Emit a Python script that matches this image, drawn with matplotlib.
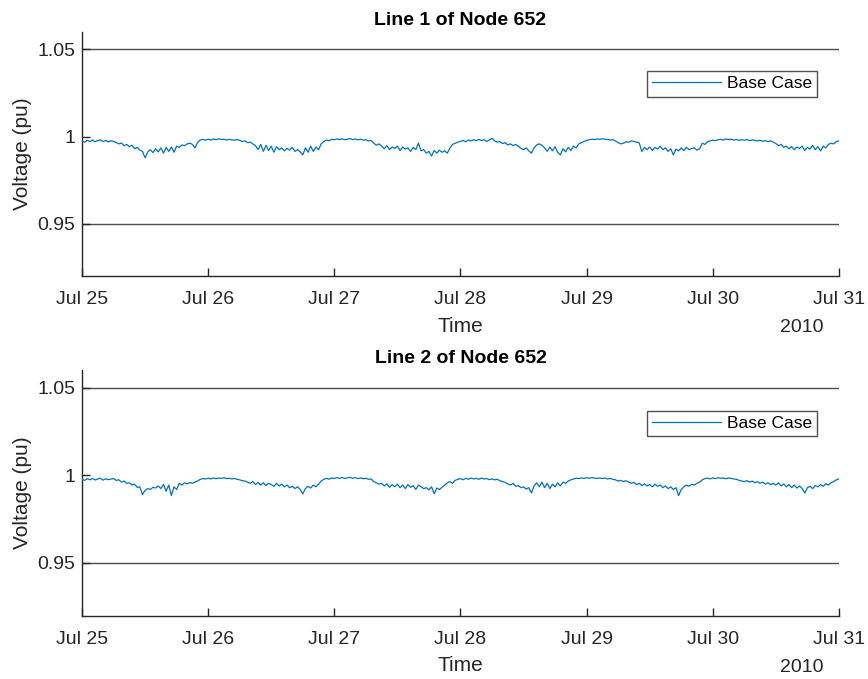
import numpy as np
import matplotlib
matplotlib.use("Agg")
import matplotlib.pyplot as plt
import matplotlib.dates as mdates

plt.rcParams["font.family"] = ["Liberation Sans", "DejaVu Sans"]

# ---------------- data (30 min samples, Jul 25 00:00 -> Jul 31 00:00) ----------------
start = np.datetime64("2010-07-25T00:00")
stop = np.datetime64("2010-07-31T00:00")

line1_v = [
    0.9975, 0.9968, 0.9979, 0.9972, 0.9980, 0.9970, 0.9977, 0.9981, 0.9971, 0.9978, 0.9969, 0.9976,
    0.9972, 0.9966, 0.9958, 0.9963, 0.9948, 0.9955, 0.9942, 0.9950, 0.9930, 0.9938, 0.9922, 0.9915,
    0.9878, 0.9912, 0.9925, 0.9908, 0.9930, 0.9912, 0.9935, 0.9905, 0.9938, 0.9915, 0.9940, 0.9910,
    0.9945, 0.9938, 0.9952, 0.9948, 0.9958, 0.9962, 0.9955, 0.9935, 0.9968, 0.9980, 0.9984, 0.9979,
    0.9985, 0.9980, 0.9986, 0.9982, 0.9987, 0.9983, 0.9985, 0.9980, 0.9984, 0.9981, 0.9979, 0.9983,
    0.9978, 0.9972, 0.9975, 0.9965, 0.9968, 0.9958, 0.9948, 0.9925, 0.9955, 0.9915, 0.9950, 0.9920,
    0.9945, 0.9910, 0.9942, 0.9925, 0.9935, 0.9918, 0.9932, 0.9922, 0.9938, 0.9915, 0.9925, 0.9912,
    0.9895, 0.9935, 0.9910, 0.9945, 0.9915, 0.9940, 0.9925, 0.9958, 0.9972, 0.9980, 0.9976, 0.9984,
    0.9982, 0.9986, 0.9983, 0.9987, 0.9982, 0.9985, 0.9988, 0.9983, 0.9986, 0.9981, 0.9985, 0.9979,
    0.9982, 0.9975, 0.9978, 0.9962, 0.9950, 0.9958, 0.9945, 0.9930, 0.9948, 0.9925, 0.9940, 0.9932,
    0.9945, 0.9920, 0.9940, 0.9928, 0.9935, 0.9915, 0.9938, 0.9925, 0.9962, 0.9918, 0.9925, 0.9905,
    0.9915, 0.9888, 0.9920, 0.9905, 0.9922, 0.9910, 0.9918, 0.9905, 0.9935, 0.9955, 0.9962, 0.9968,
    0.9972, 0.9978, 0.9970, 0.9980, 0.9975, 0.9982, 0.9976, 0.9984, 0.9978, 0.9981, 0.9972, 0.9980,
    0.9990, 0.9975, 0.9968, 0.9972, 0.9960, 0.9965, 0.9952, 0.9958, 0.9948, 0.9955, 0.9945, 0.9932,
    0.9925, 0.9935, 0.9918, 0.9905, 0.9935, 0.9952, 0.9958, 0.9950, 0.9935, 0.9915, 0.9940, 0.9918,
    0.9942, 0.9910, 0.9895, 0.9930, 0.9912, 0.9938, 0.9920, 0.9945, 0.9935, 0.9958, 0.9965, 0.9972,
    0.9978, 0.9982, 0.9985, 0.9983, 0.9986, 0.9984, 0.9987, 0.9985, 0.9983, 0.9980, 0.9982, 0.9975,
    0.9965, 0.9958, 0.9962, 0.9970, 0.9968, 0.9975, 0.9972, 0.9968, 0.9965, 0.9914, 0.9938, 0.9925,
    0.9940, 0.9920, 0.9938, 0.9928, 0.9945, 0.9925, 0.9935, 0.9915, 0.9930, 0.9895, 0.9928, 0.9918,
    0.9935, 0.9920, 0.9938, 0.9925, 0.9932, 0.9935, 0.9922, 0.9930, 0.9962, 0.9955, 0.9970, 0.9975,
    0.9980, 0.9976, 0.9982, 0.9984, 0.9980, 0.9986, 0.9983, 0.9985, 0.9980, 0.9984, 0.9978, 0.9982,
    0.9979, 0.9983, 0.9976, 0.9981, 0.9978, 0.9975, 0.9980, 0.9972, 0.9978, 0.9970, 0.9976, 0.9968,
    0.9960, 0.9948, 0.9955, 0.9938, 0.9945, 0.9930, 0.9942, 0.9925, 0.9940, 0.9932, 0.9945, 0.9920,
    0.9938, 0.9928, 0.9950, 0.9925, 0.9942, 0.9918, 0.9945, 0.9935, 0.9955, 0.9962, 0.9958, 0.9972,
    0.9975,
]

line2_v = [
    0.9978, 0.9972, 0.9982, 0.9975, 0.9983, 0.9974, 0.9980, 0.9984, 0.9973, 0.9981, 0.9976, 0.9979,
    0.9982, 0.9972, 0.9975, 0.9962, 0.9968, 0.9955, 0.9958, 0.9945, 0.9950, 0.9932, 0.9935, 0.9891,
    0.9915, 0.9925, 0.9920, 0.9932, 0.9928, 0.9940, 0.9925, 0.9948, 0.9910, 0.9945, 0.9885, 0.9935,
    0.9920, 0.9955, 0.9945, 0.9958, 0.9952, 0.9960, 0.9955, 0.9962, 0.9968, 0.9978, 0.9982, 0.9980,
    0.9984, 0.9980, 0.9986, 0.9981, 0.9985, 0.9983, 0.9987, 0.9982, 0.9984, 0.9980, 0.9983, 0.9978,
    0.9975, 0.9970, 0.9968, 0.9962, 0.9955, 0.9965, 0.9948, 0.9960, 0.9945, 0.9958, 0.9942, 0.9955,
    0.9948, 0.9938, 0.9955, 0.9940, 0.9950, 0.9935, 0.9945, 0.9930, 0.9938, 0.9925, 0.9935, 0.9920,
    0.9895, 0.9925, 0.9938, 0.9928, 0.9945, 0.9935, 0.9950, 0.9968, 0.9978, 0.9983, 0.9979, 0.9985,
    0.9983, 0.9987, 0.9984, 0.9988, 0.9983, 0.9986, 0.9989, 0.9984, 0.9987, 0.9982, 0.9986, 0.9981,
    0.9984, 0.9978, 0.9980, 0.9965, 0.9958, 0.9950, 0.9955, 0.9940, 0.9952, 0.9932, 0.9948, 0.9935,
    0.9950, 0.9930, 0.9945, 0.9925, 0.9948, 0.9932, 0.9942, 0.9920, 0.9945, 0.9935, 0.9925, 0.9930,
    0.9918, 0.9935, 0.9895, 0.9928, 0.9920, 0.9932, 0.9945, 0.9958, 0.9965, 0.9955, 0.9972, 0.9978,
    0.9982, 0.9975, 0.9984, 0.9978, 0.9985, 0.9980, 0.9983, 0.9978, 0.9985, 0.9980, 0.9982, 0.9976,
    0.9980, 0.9975, 0.9978, 0.9970, 0.9965, 0.9960, 0.9952, 0.9945, 0.9955, 0.9938, 0.9942, 0.9930,
    0.9935, 0.9922, 0.9930, 0.9900, 0.9940, 0.9958, 0.9935, 0.9962, 0.9930, 0.9955, 0.9925, 0.9950,
    0.9935, 0.9958, 0.9940, 0.9962, 0.9955, 0.9968, 0.9975, 0.9980, 0.9984, 0.9982, 0.9986, 0.9983,
    0.9987, 0.9984, 0.9988, 0.9985, 0.9983, 0.9986, 0.9982, 0.9985, 0.9980, 0.9983, 0.9978, 0.9975,
    0.9968, 0.9972, 0.9965, 0.9970, 0.9962, 0.9955, 0.9960, 0.9948, 0.9955, 0.9942, 0.9952, 0.9940,
    0.9948, 0.9935, 0.9950, 0.9938, 0.9945, 0.9930, 0.9940, 0.9925, 0.9935, 0.9920, 0.9930, 0.9885,
    0.9920, 0.9935, 0.9945, 0.9938, 0.9950, 0.9945, 0.9955, 0.9962, 0.9975, 0.9982, 0.9985, 0.9980,
    0.9986, 0.9982, 0.9987, 0.9984, 0.9985, 0.9981, 0.9986, 0.9983, 0.9980, 0.9978, 0.9972, 0.9968,
    0.9965, 0.9970, 0.9962, 0.9968, 0.9958, 0.9965, 0.9955, 0.9962, 0.9950, 0.9958, 0.9948, 0.9955,
    0.9945, 0.9958, 0.9940, 0.9952, 0.9935, 0.9948, 0.9930, 0.9945, 0.9928, 0.9940, 0.9925, 0.9900,
    0.9930, 0.9938, 0.9925, 0.9942, 0.9935, 0.9948, 0.9938, 0.9952, 0.9945, 0.9958, 0.9965, 0.9975,
    0.9980,
]

titles = ["Line 1 of Node 652", "Line 2 of Node 652"]
series = [line1_v, line2_v]
ref_lines = [0.95, 1.05]
yticks = [0.95, 1.0, 1.05]
ytick_labels = ["0.95", "1", "1.05"]

t = np.arange(start, stop + np.timedelta64(30, "m"), np.timedelta64(30, "m"))

blue = "#0072BD"
axcol = "#262626"

fig = plt.figure(figsize=(8.68, 6.79), dpi=100)
boxes = [[0.0945, 0.5935, 0.872, 0.3594],
         [0.0945, 0.0935, 0.872, 0.3610]]
leg_y = [0.84, 0.835]

for k in range(2):
    ax = fig.add_axes(boxes[k])
    for yl in ref_lines:
        ax.axhline(yl, color="#4d4d4d", lw=1.0, zorder=1)
    ax.plot(t, series[k], color=blue, lw=0.9, label="Base Case", zorder=3)

    ax.set_xlim(start, stop)
    ax.set_ylim(0.92, 1.06)
    ax.set_yticks(yticks)
    ax.set_yticklabels(ytick_labels)
    ax.xaxis.set_major_locator(mdates.DayLocator())
    ax.xaxis.set_major_formatter(mdates.DateFormatter("%b %d"))

    for s in ["top", "right"]:
        ax.spines[s].set_visible(False)
    for s in ["left", "bottom"]:
        ax.spines[s].set_color(axcol)
        ax.spines[s].set_linewidth(1.0)
    ax.tick_params(axis="both", direction="in", length=6, width=1.0,
                   colors=axcol, labelsize=14)
    ax.tick_params(axis="x", pad=11)
    ax.tick_params(axis="y", pad=5)

    ax.set_title(titles[k], fontsize=14, fontweight="bold", color="black", pad=5)
    ax.set_ylabel("Voltage (pu)", fontsize=15, color=axcol, labelpad=4)
    ax.set_xlabel("Time", fontsize=15, color=axcol, labelpad=6)
    ax.text(0.979, -0.212, "2010", transform=ax.transAxes, ha="right", va="center",
            fontsize=14, color=axcol)

    leg = ax.legend(loc="upper right", bbox_to_anchor=(0.971, leg_y[k]),
                    fontsize=12.5, handlelength=4.0, frameon=True, fancybox=False,
                    borderaxespad=0, borderpad=0.3, handletextpad=0.3)
    leg.get_frame().set_edgecolor("#262626")
    leg.get_frame().set_linewidth(1.0)

fig.savefig("out.png", dpi=100)
